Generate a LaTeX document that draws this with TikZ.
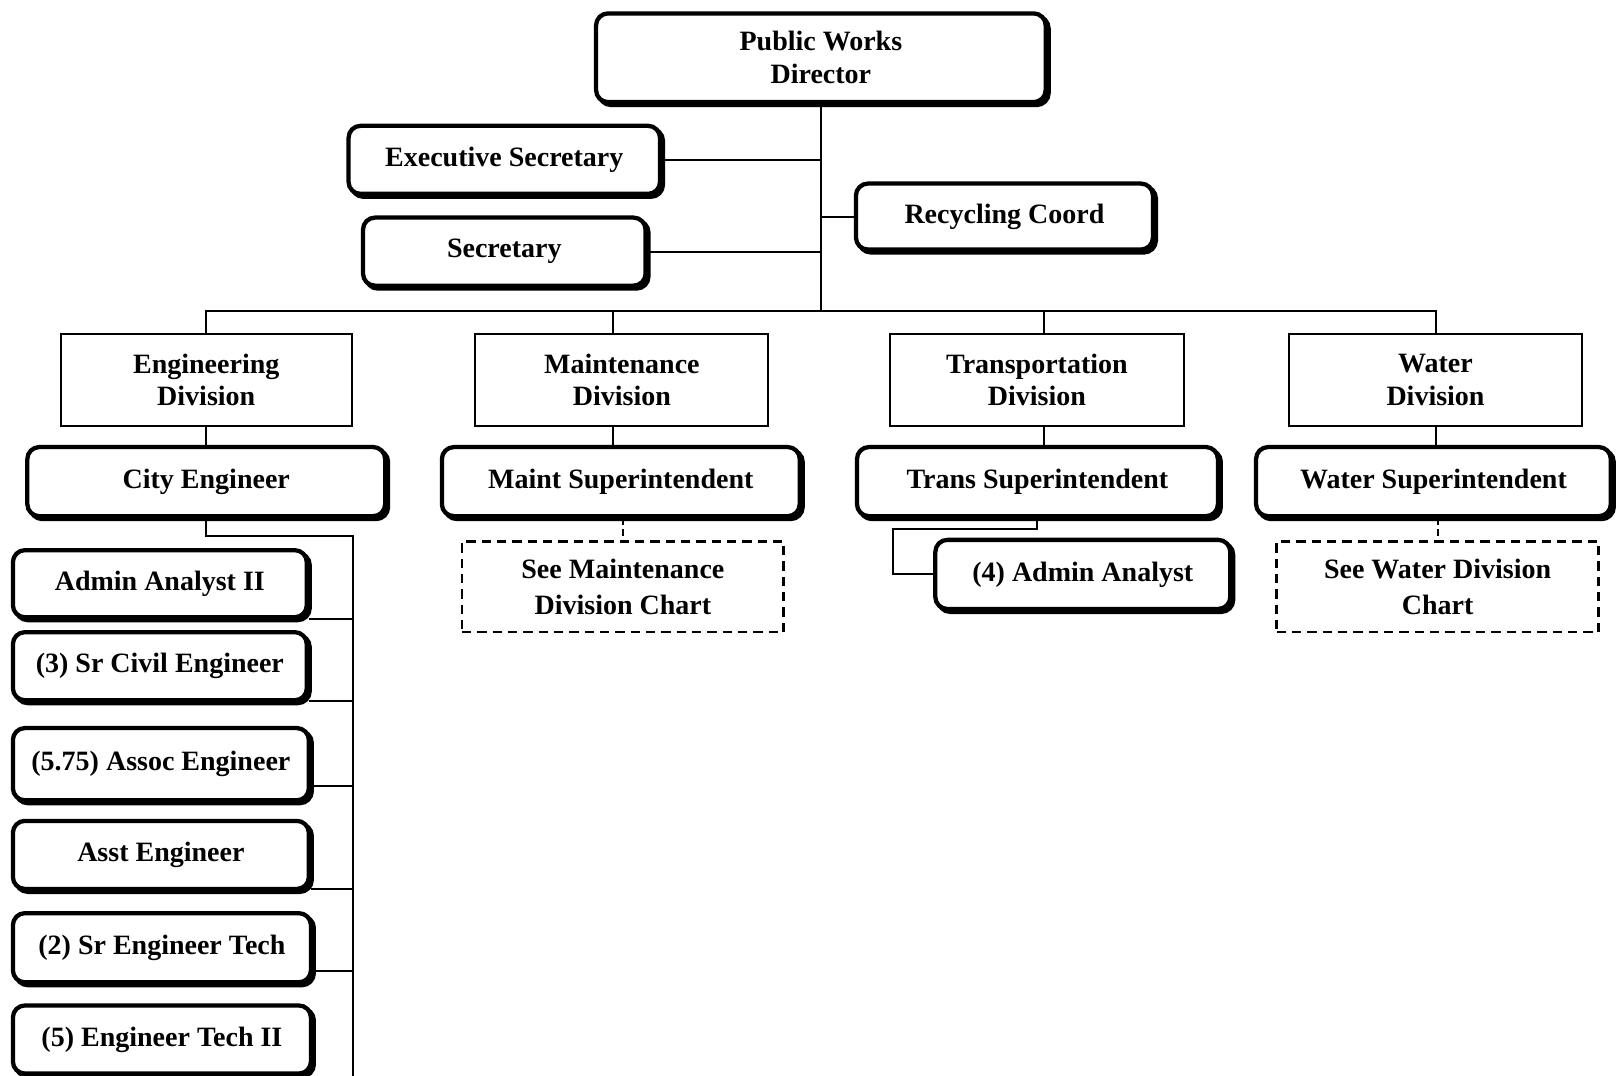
\documentclass[tikz,border=0pt]{standalone}
\usepackage{fontspec}
\setmainfont{Liberation Serif}
\usetikzlibrary{calc,shadows,backgrounds}
\newdimen\pxu \pxu=0.7734pt
\begin{document}
\begin{tikzpicture}[x=0.7734pt, y=-0.7734pt,
  every node/.style={font=\fontsize{21}{24.5}\selectfont\bfseries, align=center, inner sep=0pt},
  wh/.style 2 args={minimum width=#1*\pxu, minimum height=#2*\pxu},
  role/.style={draw, line width=3.2pt, rounded corners=9pt, fill=white,
    drop shadow={shadow xshift=2.2pt, shadow yshift=-2.2pt, opacity=1,
      fill=black, draw=black, line width=3.2pt}},
  division/.style={draw, line width=1.4pt, fill=white},
  seechart/.style={draw, line width=1.9pt, dash pattern=on 7pt off 4.5pt,
    font=\fontsize{21}{26.5}\selectfont\bfseries},
  link/.style={line width=1.5pt},
  dlink/.style={line width=1.5pt, dash pattern=on 5pt off 3pt},
]
\useasboundingbox (0,0) rectangle (1568,1043);
\clip (0,0) rectangle (1568,1043);

% top of the chart
\node[role, wh={436}{86}] (pwd) at (796,56) {Public Works\\Director};
\node[role, wh={302}{66}] (es) at (489,155) {Executive Secretary};
\node[role, wh={274}{66}] (sec) at (489,244) {Secretary};
\node[role, wh={288}{64}] (rc) at (974,210) {Recycling Coord};

% divisions
\node[division, wh={282}{89}] (engdiv) at (200,368.5) {Engineering\\Division};
\node[division, wh={284}{89}] (mdiv) at (603,368.5) {Maintenance\\Division};
\node[division, wh={285}{89}] (tdiv) at (1005.5,368.5) {Transportation\\Division};
\node[division, wh={284}{89}] (wdiv) at (1392,368.5) {Water\\Division};

% division heads
\node[role, wh={347}{67}] (ceng) at (200,467) {City Engineer};
\node[role, wh={347}{67}] (msup) at (602,467) {Maint Superintendent};
\node[role, wh={350}{67}] (tsup) at (1006,467) {Trans Superintendent};
\node[role, wh={344}{67}] (wsup) at (1390,467) {Water Superintendent};

% references to other charts
\node[seechart, wh={312}{88}] (msee) at (604,569) {See Maintenance\\Division Chart};
\node[seechart, wh={312}{88}] (wsee) at (1394,569) {See Water Division\\Chart};

% transportation staff
\node[role, wh={286}{67}] (aa) at (1050,557) {(4) Admin Analyst};

% engineering staff
\node[role, wh={285}{65}] (a1) at (155,566) {Admin Analyst II};
\node[role, wh={285}{66}] (a2) at (155,646) {(3) Sr Civil Engineer};
\node[role, wh={287}{70}] (a3) at (156,741) {(5.75) Assoc Engineer};
\node[role, wh={287}{66}] (a4) at (156,829) {Asst Engineer};
\node[role, wh={289}{67}] (a5) at (157,919) {(2) Sr Engineer Tech};
\node[role, wh={289}{66}] (a6) at (157,1008) {(5) Engineer Tech II};

\coordinate (bus) at (796,302);
\coordinate (md) at (594,302);
\coordinate (td) at (1012,302);
\coordinate (tk) at (866,513);
\coordinate (ck) at (342,520);
\coordinate (cbot) at (342,1043);

\begin{scope}[on background layer]
  % director's staff and the division bus
  \draw[link] (pwd.south) -- (bus);
  \draw[link] (es.east) -- (es.east -| bus);
  \draw[link] (sec.east) -- (sec.east -| bus);
  \draw[link] (rc.west) -- (rc.west -| bus);
  \draw[link] (engdiv.north) |- (bus) -| (wdiv.north);
  \draw[link] (md) -- (md |- mdiv.north);
  \draw[link] (td) -- (td |- tdiv.north);

  % divisions to their heads
  \draw[link] (engdiv.south) -- (engdiv.south |- ceng.north);
  \draw[link] (md |- mdiv.south) -- (md |- msup.north);
  \draw[link] (td |- tdiv.south) -- (td |- tsup.north);
  \draw[link] (wdiv.south) -- (wdiv.south |- wsup.north);

  % heads to chart references
  \draw[dlink] (msup.south -| msee.north) -- (msee.north);
  \draw[dlink] (wsup.south -| wsee.north) -- (wsee.north);

  % transportation
  \draw[link] (tsup.south) |- (tk) |- (aa.west);

  % engineering staff tree
  \draw[link] (ceng.south) |- (ck) -- (cbot);
  \draw[link] ($(a1.east)+(0,34)$) coordinate (b1) -- (b1 -| ck);
  \draw[link] ($(a2.east)+(0,34)$) coordinate (b2) -- (b2 -| ck);
  \draw[link] ($(a3.east)+(0,21)$) coordinate (b3) -- (b3 -| ck);
  \draw[link] ($(a4.east)+(0,33)$) coordinate (b4) -- (b4 -| ck);
  \draw[link] ($(a5.east)+(0,23)$) coordinate (b5) -- (b5 -| ck);
\end{scope}
\end{tikzpicture}
\end{document}
